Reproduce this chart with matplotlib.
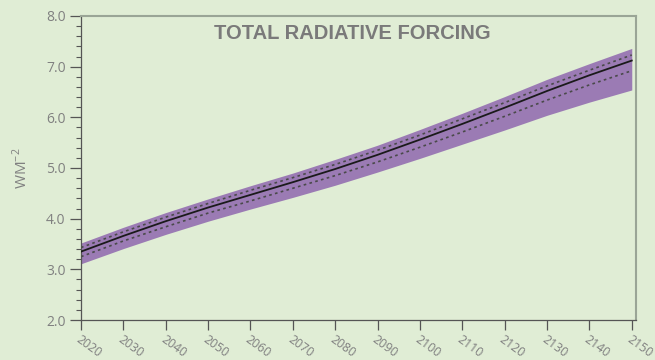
import matplotlib
matplotlib.use("Agg")
import matplotlib.pyplot as plt
from matplotlib.ticker import MultipleLocator

years = [2020, 2030, 2040, 2050, 2060, 2070, 2080, 2090, 2100, 2110, 2120, 2130, 2140, 2150]
central = [3.35, 3.66, 3.95, 4.22, 4.47, 4.72, 4.98, 5.26, 5.56, 5.87, 6.19, 6.52, 6.83, 7.12]
range_high = [3.52, 3.83, 4.12, 4.39, 4.65, 4.90, 5.17, 5.45, 5.76, 6.08, 6.41, 6.75, 7.06, 7.36]
range_low = [3.11, 3.41, 3.69, 3.95, 4.19, 4.42, 4.66, 4.92, 5.19, 5.47, 5.75, 6.04, 6.30, 6.54]
likely_high = [3.43, 3.74, 4.03, 4.30, 4.56, 4.81, 5.07, 5.35, 5.65, 5.97, 6.29, 6.62, 6.93, 7.23]
likely_low = [3.25, 3.56, 3.84, 4.11, 4.35, 4.60, 4.85, 5.12, 5.41, 5.71, 6.02, 6.34, 6.64, 6.92]
y_ticks = [2.0, 3.0, 4.0, 5.0, 6.0, 7.0, 8.0]

BG = "#e0edd5"
PURPLE = "#9b7bb4"
TXT = "#808080"

fig = plt.figure(figsize=(6.55, 3.6), dpi=100, facecolor=BG)
ax = fig.add_axes([0.1237, 0.1111, 0.8473, 0.8445])
ax.set_facecolor(BG)

ax.fill_between(years, range_low, range_high, color=PURPLE, lw=0, zorder=2)
ax.plot(years, likely_high, color="#4a4a4a", lw=1.2, ls=(0, (1.6, 2.0)), zorder=3)
ax.plot(years, likely_low, color="#4a4a4a", lw=1.2, ls=(0, (1.6, 2.0)), zorder=3)
ax.plot(years, central, color="#1a1a1a", lw=1.3, zorder=4)

ax.set_xlim(2020, 2151)
ax.set_ylim(2.0, 8.0)
ax.set_xticks(years)
ax.set_xticklabels([str(y) for y in years], rotation=-36, ha="left", va="top",
                   rotation_mode="anchor", color=TXT, fontsize=8.8, family="Open Sans")
ax.set_yticks(y_ticks)
ax.set_yticklabels([f"{v:.1f}" for v in y_ticks], color=TXT, fontsize=10, family="Open Sans")
ax.yaxis.set_minor_locator(MultipleLocator(0.2))

ax.tick_params(axis="y", which="major", direction="out", length=8, width=0.9, color="#555555", pad=3)
ax.tick_params(axis="y", which="minor", direction="out", length=3.5, width=0.8, color="#555555")
ax.tick_params(axis="x", which="major", direction="out", length=7, width=0.9, color="#555555", pad=2.5)

for side in ("left", "bottom"):
    ax.spines[side].set_color("#555555")
    ax.spines[side].set_linewidth(0.9)
for side in ("top", "right"):
    ax.spines[side].set_color("#9aa596")
    ax.spines[side].set_linewidth(1.5)

ax.set_ylabel("WM$^{\\mathregular{-2}}$", color=TXT, fontsize=11, family="Open Sans", labelpad=11)

ax.text(0.488, 0.944, "TOTAL RADIATIVE FORCING", transform=ax.transAxes, ha="center", va="center",
        fontsize=14.5, fontweight="bold", color="#7a7a7a", family="Liberation Sans")

fig.savefig("out.png", dpi=100, facecolor=BG)
